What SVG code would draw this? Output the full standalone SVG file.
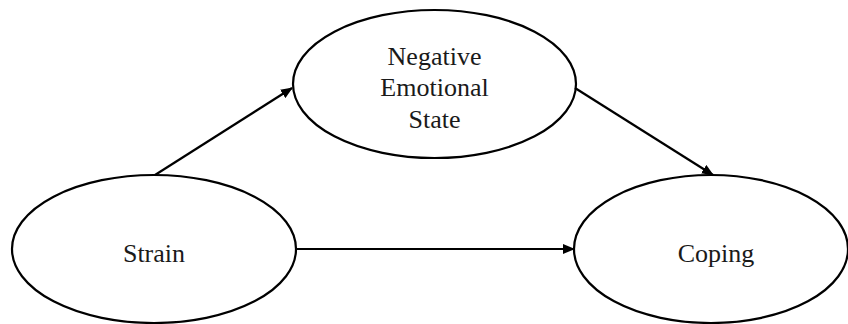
<svg xmlns="http://www.w3.org/2000/svg" width="848" height="324" viewBox="0 0 848 324">
<style>
.node{fill:#fff;stroke:#000;stroke-width:2.2}
.lbl{font-family:"Liberation Serif","Times New Roman",serif;font-size:26px;fill:#1a1a1a;text-anchor:middle}
.edge{stroke:#000;stroke-width:2.2;fill:none;marker-end:url(#ah)}
</style>
<defs>
<marker id="ah" markerWidth="12" markerHeight="10" refX="11" refY="5" orient="auto" markerUnits="userSpaceOnUse">
<path d="M0,0 L12,5 L0,10 Z" fill="#000"/>
</marker>
</defs>
<g id="strain">
<ellipse class="node" cx="154" cy="249" rx="142" ry="74"/>
<text class="lbl" x="154" y="262">Strain</text>
</g>
<g id="negative-emotional-state">
<ellipse class="node" cx="434.5" cy="84" rx="141.5" ry="74"/>
<text class="lbl" x="434.5" y="65">Negative</text>
<text class="lbl" x="434.5" y="96">Emotional</text>
<text class="lbl" x="434.5" y="128">State</text>
</g>
<g id="coping">
<ellipse class="node" cx="711" cy="249" rx="137" ry="74"/>
<text class="lbl" x="716" y="262">Coping</text>
</g>
<g id="connectors">
<line class="edge" x1="155" y1="175" x2="292" y2="88"/>
<line class="edge" x1="575" y1="88" x2="713" y2="175"/>
<line class="edge" x1="296" y1="249" x2="574" y2="249"/>
</g>
</svg>
